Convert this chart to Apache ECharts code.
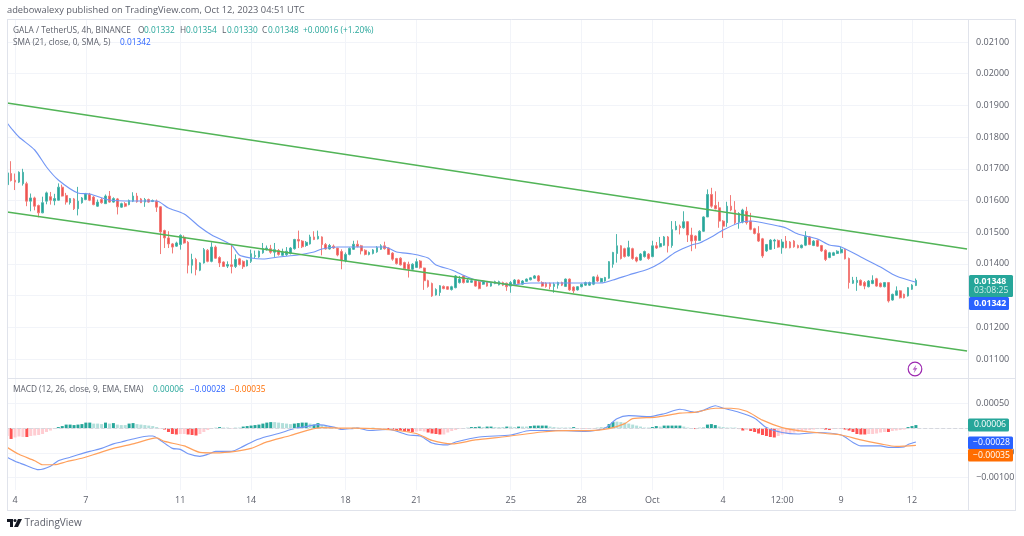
<!DOCTYPE html>
<html><head><meta charset="utf-8">
<style>html,body{margin:0;padding:0;background:#fff}#c{width:1024px;height:536px}</style>
<script src="https://cdn.jsdelivr.net/npm/echarts@6/dist/echarts.min.js"></script>
</head><body><div id="c"></div>
<script>
// Prices and MACD histogram are in units of 0.00001.
const UNIT = 1e-5;
const open = [1650,1685,1664,1658,1653,1653,1598,1608,1584,1561,
1598,1612,1599,1601,1642,1616,1593,1605,1574,1593,
1603,1619,1611,1582,1603,1590,1614,1595,1605,1579,
1590,1587,1598,1614,1605,1595,1603,1597,1598,1580,
1505,1482,1463,1456,1461,1484,1468,1396,1414,1380,
1403,1443,1408,1453,1420,1406,1393,1397,1392,1416,
1408,1394,1408,1424,1422,1435,1445,1448,1437,1442,
1427,1429,1433,1448,1477,1472,1458,1463,1485,1479,
1485,1461,1447,1456,1450,1439,1410,1430,1446,1462,
1457,1443,1430,1433,1438,1446,1457,1450,1434,1417,
1418,1404,1399,1383,1389,1409,1387,1347,1338,1302,
1310,1329,1328,1319,1325,1341,1362,1342,1342,1347,
1343,1336,1343,1330,1338,1334,1341,1339,1330,1336,
1349,1336,1345,1350,1355,1362,1341,1339,1339,1329,
1333,1341,1329,1352,1327,1318,1328,1333,1333,1336,
1359,1343,1346,1355,1399,1433,1457,1448,1425,1448,
1420,1412,1423,1431,1423,1457,1454,1459,1485,1458,
1508,1519,1514,1533,1491,1488,1474,1503,1548,1619,
1584,1577,1535,1530,1582,1570,1532,1532,1566,1535,
1511,1496,1479,1441,1446,1472,1474,1451,1472,1469,
1472,1458,1451,1459,1485,1458,1474,1458,1443,1420,
1427,1433,1435,1446,1417,1339,1341,1348,1341,1328,
1338,1353,1339,1328,1341,1286,1301,1315,1304,1299,
1320,1332];
const close = [1687,1663,1658,1689,1689,1598,1608,1582,1561,1593,
1624,1601,1606,1642,1614,1595,1606,1574,1598,1608,
1621,1601,1587,1595,1593,1614,1595,1606,1580,1590,
1582,1600,1614,1596,1593,1603,1595,1600,1579,1501,
1482,1463,1453,1466,1490,1466,1396,1414,1382,1403,
1445,1408,1453,1418,1403,1392,1398,1392,1414,1398,
1391,1411,1432,1426,1440,1448,1450,1437,1445,1430,
1437,1440,1450,1477,1472,1454,1468,1485,1477,1487,
1461,1447,1458,1450,1428,1410,1430,1449,1462,1455,
1441,1430,1436,1444,1452,1457,1448,1430,1415,1401,
1397,1385,1383,1399,1407,1388,1347,1329,1299,1319,
1331,1322,1320,1328,1362,1352,1341,1348,1347,1330,
1322,1346,1330,1339,1344,1344,1333,1328,1341,1349,
1338,1346,1352,1356,1362,1346,1330,1329,1329,1336,
1341,1333,1352,1318,1315,1328,1336,1341,1341,1359,
1346,1354,1357,1407,1436,1457,1417,1423,1451,1417,
1409,1431,1439,1417,1457,1450,1464,1485,1457,1508,
1519,1514,1533,1491,1472,1474,1503,1548,1619,1582,
1574,1535,1519,1582,1570,1530,1559,1570,1530,1509,
1496,1472,1425,1461,1475,1475,1453,1469,1451,1451,
1454,1451,1459,1488,1461,1472,1456,1441,1414,1435,
1435,1440,1446,1416,1341,1348,1348,1333,1330,1346,
1348,1330,1328,1341,1283,1304,1315,1293,1293,1325,
1333,1348];
const high = [1700,1724,1685,1692,1700,1659,1622,1612,1587,1612,
1628,1627,1621,1654,1650,1624,1608,1608,1643,1611,
1624,1624,1614,1603,1608,1619,1630,1610,1608,1593,
1595,1603,1626,1624,1608,1608,1606,1603,1603,1582,
1508,1503,1466,1470,1493,1490,1472,1432,1419,1405,
1450,1447,1468,1458,1424,1408,1408,1463,1430,1419,
1411,1413,1445,1442,1442,1466,1458,1460,1466,1447,
1448,1453,1453,1479,1505,1475,1472,1492,1503,1505,
1487,1466,1463,1461,1450,1446,1436,1452,1473,1474,
1460,1446,1439,1447,1456,1462,1470,1452,1437,1419,
1421,1407,1407,1402,1417,1412,1388,1350,1341,1323,
1333,1332,1330,1331,1365,1362,1365,1352,1352,1349,
1346,1349,1346,1342,1347,1347,1344,1341,1346,1352,
1351,1349,1354,1358,1365,1365,1345,1342,1341,1341,
1344,1344,1354,1354,1329,1330,1338,1344,1344,1361,
1366,1356,1359,1409,1438,1494,1459,1451,1473,1451,
1423,1434,1442,1434,1473,1469,1485,1488,1488,1535,
1535,1524,1566,1535,1514,1490,1506,1550,1635,1640,
1629,1596,1538,1596,1617,1598,1563,1574,1580,1561,
1514,1519,1482,1463,1478,1479,1477,1478,1488,1472,
1475,1461,1461,1503,1488,1475,1477,1460,1446,1438,
1438,1443,1454,1449,1420,1359,1359,1351,1346,1349,
1364,1356,1341,1343,1343,1306,1329,1317,1306,1327,
1336,1354];
const low = [1600,1660,1633,1655,1647,1582,1566,1569,1547,1560,
1588,1587,1585,1600,1613,1587,1587,1570,1553,1590,
1601,1598,1585,1580,1590,1590,1593,1593,1556,1577,
1579,1585,1595,1593,1592,1580,1593,1595,1564,1431,
1450,1450,1433,1454,1445,1464,1370,1370,1364,1377,
1401,1405,1405,1416,1390,1390,1387,1370,1387,1395,
1384,1392,1403,1416,1419,1432,1442,1432,1422,1426,
1424,1425,1430,1445,1450,1450,1454,1461,1475,1477,
1427,1445,1445,1447,1424,1383,1405,1427,1444,1452,
1430,1427,1427,1430,1435,1444,1445,1428,1410,1398,
1395,1382,1357,1380,1387,1385,1318,1325,1296,1300,
1299,1320,1318,1316,1323,1338,1338,1340,1340,1328,
1320,1334,1328,1328,1336,1332,1330,1315,1309,1333,
1335,1334,1343,1348,1353,1344,1328,1325,1320,1309,
1322,1330,1327,1315,1308,1316,1326,1331,1331,1333,
1343,1341,1344,1353,1388,1404,1414,1420,1423,1413,
1405,1410,1420,1413,1421,1447,1452,1457,1436,1451,
1506,1493,1511,1469,1440,1448,1472,1501,1548,1577,
1572,1514,1482,1517,1566,1524,1511,1528,1524,1506,
1493,1469,1419,1438,1444,1447,1451,1432,1449,1449,
1451,1449,1449,1456,1459,1456,1454,1438,1409,1418,
1425,1431,1433,1414,1322,1337,1315,1331,1320,1326,
1336,1328,1326,1326,1278,1284,1299,1291,1291,1297,
1318,1330];

// [bar index, value] pairs
const sma = [[0,.018445],[1,.018287],[3,.018003],[7,.017593],[10,.017057],[13,.016647],[18,.016237],[21,.016205],[26,.016016],[32,.015984],[38,.015984],[41,.015763],[45,.015574],[49,.015164],[52,.014912],[57,.014596],[59,.014281],[62,.014186],[65,.014154],[69,.014218],[74,.014281],[78,.014375],[80,.01447],[84,.014533],[90,.014533],[96,.014533],[99,.014375],[103,.014312],[107,.014186],[109,.013965],[113,.013808],[117,.013587],[120,.01346],[125,.013397],[128,.013334],[133,.013397],[141,.013397],[151,.013397],[154,.013492],[158,.01365],[163,.013839],[166,.014028],[170,.014375],[174,.014596],[176,.014659],[179,.014849],[182,.015069],[186,.01529],[189,.015353],[191,.015322],[196,.015196],[198,.015133],[201,.014943],[206,.014785],[209,.014596],[212,.014533],[217,.014218],[222,.013902],[226,.013618],[231,.01342]];
const channelUpper = [[0,.019076],[244,.01447]];
const channelLower = [[0,.015637],[244,.011252]];
const macd = [[0,-.00059],[2,-.00067],[3,-.0007],[5,-.00076],[8,-.00084],[11,-.00077],[13,-.00066],[16,-.00059],[18,-.00054],[21,-.00047],[24,-.00041],[27,-.00032],[29,-.00028],[32,-.00022],[36,-.00016],[37,-.00016],[39,-.00025],[42,-.00041],[44,-.00043],[46,-.00052],[49,-.00057],[51,-.00053],[53,-.00047],[57,-.00047],[60,-.00037],[63,-.00025],[66,-.00017],[69,-.00011],[73,-.00001],[76,.00003],[79,.00007],[83,.00002],[85,-.00003],[89,0],[92,-.00005],[97,-.00003],[102,-.00014],[105,-.00016],[108,-.0003],[112,-.00034],[114,-.00028],[120,-.00018],[128,-.00014],[133,-.00005],[140,-.00005],[147,-.00007],[152,0],[155,.00019],[158,.00025],[163,.00023],[167,.00029],[171,.00038],[175,.00032],[177,.00036],[180,.00045],[182,.0004],[186,.00032],[190,.0002],[193,.00001],[197,-.00009],[201,-.00012],[206,-.00009],[212,-.00014],[215,-.00029],[217,-.00036],[222,-.00036],[224,-.00039],[228,-.00038],[229,-.00033],[231,-.00028]];
const signal = [[0,-.00039],[3,-.00053],[7,-.00066],[9,-.00074],[12,-.00074],[15,-.00068],[19,-.00061],[23,-.00051],[27,-.00041],[32,-.00032],[38,-.0002],[40,-.00027],[45,-.00036],[49,-.00049],[53,-.0005],[58,-.00047],[62,-.00041],[66,-.00028],[72,-.00015],[77,-.00003],[80,.00001],[85,0],[93,-.00001],[97,-.00003],[104,-.00011],[108,-.00025],[113,-.00032],[119,-.00024],[127,-.00017],[136,-.00008],[142,-.00005],[148,-.00005],[153,-.00001],[157,.00009],[159,.00019],[165,.00022],[171,.0003],[175,.00032],[180,.0004],[184,.0004],[188,.00034],[192,.00016],[197,.00001],[202,-.00006],[208,-.00011],[212,-.00014],[217,-.00024],[222,-.00032],[226,-.00037],[231,-.00035]];
const hist = [-16,-22,-19,-17,-18,-18,-16,-15,-14,-12,
-8,-5,-2,2,4,7,7,6,7,8,
11,11,9,9,8,11,9,10,7,6,
6,9,10,8,7,6,5,4,2,-1,
-3,-8,-12,-13,-12,-12,-13,-14,-15,-12,
-8,-4,-1,1,2,1,1,-1,1,1,
3,4,5,6,7,9,11,12,12,11,
10,9,8,9,10,11,11,9,7,10,
6,4,2,1,-1,-3,-1,-1,1,1,
-1,-1,-1,1,-1,-1,-2,-2,-3,-4,
-5,-6,-7,-8,-7,-6,-7,-9,-11,-12,
-13,-13,-9,-6,-4,-1,-1,1,2,2,
3,2,3,3,2,2,2,3,3,2,
3,3,3,4,5,5,5,5,3,2,
1,1,1,1,2,-1,-2,-2,-2,-1,
1,2,2,8,12,13,12,11,9,7,
5,3,1,1,2,4,3,5,5,5,
5,5,3,1,-1,-2,1,2,7,8,
6,3,2,1,1,1,-2,-5,-4,-6,
-8,-11,-14,-16,-18,-19,-16,-13,-11,-10,
-9,-8,-6,-5,-4,-3,-2,-2,-3,-4,
-2,-1,-1,-3,-5,-8,-12,-13,-13,-12,
-12,-11,-9,-8,-8,-6,-5,-4,-3,2,
4,6];
const histDarkBars = [1,5,13,14,15,16,17,18,19,20,21,25,27,31,32,40,41,42,43,46,47,48,54,60,61,62,63,64,65,66,67,73,74,75,76,78,79,85,91,97,98,99,100,101,102,103,107,108,109,110,118,119,120,122,123,127,130,133,134,135,136,137,144,153,154,164,165,167,168,169,170,171,175,178,179,180,186,187,189,190,191,192,193,194,195,208,209,213,214,215,216,217,218,224,229,230,231];

const timeTickBars = [2,20,44,62,86,104,128,146,164,182,197,212,230];
const timeTickLabels = ['4','7','11','14','18','21','25','28','Oct','4','12:00','9','12'];
const priceTicks = [.011,.012,.013,.014,.015,.016,.017,.018,.019,.02,.021];
const macdTicks = [-.001,-.0005,0,.0005];
const LAST_PRICE = .01348, LAST_HIST = .00006;

const BAND_COUNT = 245;
const categories = Array.from({length:BAND_COUNT},(_,i)=>{
  const t = timeTickBars.indexOf(i); return t>=0 ? timeTickLabels[t] : '';
});
const isTick = i => timeTickBars.includes(i);
const FONT = 'Open Sans';
const TXT = '#5d606b', GRID='#f2f4f9', LINE='#e0e3eb';
const UP='#26a69a', DOWN='#ef5350', BLUE='#2962ff', ORANGE='#ff6d00';

const xAxis = (gi,showLabels)=>({
  type:'category', gridIndex:gi, data:categories, boundaryGap:true,
  axisLine:{show:false}, axisTick:{show:false},
  axisLabel:{show:showLabels, interval:(i)=>isTick(i), color:TXT, fontFamily:FONT, fontSize:9, margin:6, hideOverlap:false},
  splitLine:{show:true, alignWithLabel:true, interval:(i)=>isTick(i), lineStyle:{color:GRID,width:1}}
});
const yAxis = (gi,min,max,ticks,fmt)=>({
  type:'value', gridIndex:gi, position:'right', min, max, scale:true,
  axisLine:{show:false}, axisTick:{show:false, customValues:ticks},
  axisLabel:{color:TXT, fontFamily:FONT, fontSize:9, margin:7, customValues:ticks, formatter:fmt, showMinLabel:true, showMaxLabel:true},
  splitLine:{show:true, lineStyle:{color:GRID,width:1}}
});
const fmt5 = v => (v<0?'\u2212':'')+Math.abs(v).toFixed(5);

const txt = (x,y,text,fill,extra={}) => ({type:'text', z:100, x, y, style:Object.assign({text, fill, font:`8.3px "${FONT}"`, textVerticalAlign:'middle', textAlign:'left'},extra)});
const tag = (x,y,w,h,fill) => ({type:'rect', z:99, shape:{x,y,width:w,height:h,r:1.5}, style:{fill}});
const hline = (x1,x2,y) => ({type:'line', z:98, shape:{x1,y1:y,x2,y2:y}, style:{stroke:LINE,lineWidth:1}});
const vline = (x,y1,y2) => ({type:'line', z:98, shape:{x1:x,y1,x2:x,y2}, style:{stroke:LINE,lineWidth:1}});

const graphic = [
  {type:'rect', z:97, shape:{x:0,y:0,width:7,height:536}, style:{fill:'#fff'}},
  hline(7,1015.5,19.5), hline(7,1015.5,378.5), hline(7,1015.5,510.5),
  vline(7.5,19,511), vline(968.5,19,511), vline(1015.5,19,511),
  txt(7,10.5,'adebowalexy published on TradingView.com, Oct 12, 2023 04:51 UTC',TXT,{font:`9.3px "${FONT}"`}),
  txt(13,30.5,'GALA / TetherUS, 4h, BINANCE',TXT),
  txt(138,30.5,'O',TXT), txt(144,30.5,'0.01332',UP),
  txt(180,30.5,'H',TXT), txt(186,30.5,'0.01354',UP),
  txt(222,30.5,'L',TXT), txt(227,30.5,'0.01330',UP),
  txt(262,30.5,'C',TXT), txt(268,30.5,'0.01348',UP),
  txt(303,30.5,'+0.00016 (+1.20%)',UP),
  txt(13,42.5,'SMA (21, close, 0, SMA, 5)',TXT),
  txt(120,42.5,'0.01342',BLUE),
  txt(13,389.5,'MACD (12, 26, close, 9, EMA, EMA)',TXT),
  txt(153,389.5,'0.00006',UP), txt(190,389.5,'\u22120.00028',BLUE), txt(230,389.5,'\u22120.00035',ORANGE),
  tag(969,275,44,22,UP),
  txt(974,281.5,'0.01348','#fff',{font:`bold 8.7px "${FONT}"`}), txt(974,291,'03:08:25','#d4eeeb',{font:`8.7px "${FONT}"`}),
  tag(969,297,40,13,BLUE), txt(974,303.5,'0.01342','#fff',{font:`bold 8.7px "${FONT}"`}),
  tag(968,418.5,41,13,UP), txt(974,425,'0.00006','#fff',{font:`8.7px "${FONT}"`}),
  tag(968,436.5,45,12.5,BLUE), txt(973,443,'\u22120.00028','#fff',{font:`8.7px "${FONT}"`}),
  tag(968,449,45,12.5,ORANGE), txt(973,455.5,'\u22120.00035','#fff',{font:`8.7px "${FONT}"`}),
  {type:'circle', z:100, shape:{cx:915,cy:369,r:6.8}, style:{fill:'#fff',stroke:'#9c27b0',lineWidth:1.2}},
  {type:'polygon', z:101, shape:{points:[[916.2,364.8],[912.6,369.8],[914.7,369.8],[913.8,373.2],[917.4,368],[915.3,368]]}, style:{fill:'#ba68c8'}},
  // TradingView mark and wordmark
  {type:'polygon', z:100, shape:{points:[[7,519],[13,519],[13,527],[10,527],[10,522],[7,522]]}, style:{fill:'#131722'}},
  {type:'circle', z:100, shape:{cx:15,cy:520.5,r:1.5}, style:{fill:'#131722'}},
  {type:'polygon', z:100, shape:{points:[[18,519],[22,519],[18,527],[14,527]]}, style:{fill:'#131722'}},
  txt(24.5,523,'TradingView',TXT,{font:`10px "${FONT}"`})
];

const barData = open.map((_,i)=>[open[i]*UNIT, close[i]*UNIT, low[i]*UNIT, high[i]*UNIT]);
const histData = hist.map((v,i)=>{
  const dark = histDarkBars.includes(i);
  return {value:[i, v*UNIT], itemStyle:{color: v>=0 ? (dark?'#26a69a':'#b2dfdb') : (dark?'#ff5252':'#ffcdd2')}};
});

const chart = echarts.init(document.getElementById('c'),null,{renderer:'canvas',width:1024,height:536});
chart.setOption({
  animation:false, backgroundColor:'#fff',
  grid:[
    {left:5.2, top:19, width:963.83, height:359},
    {left:5.2, top:379, width:963.83, height:111}
  ],
  xAxis:[xAxis(0,false), xAxis(1,true)],
  yAxis:[yAxis(0,.0104,.021726,priceTicks,fmt5), yAxis(1,-.00125,.00099,macdTicks,fmt5)],
  graphic,
  series:[
    {type:'candlestick', xAxisIndex:0, yAxisIndex:0, data:barData, barWidth:2.2, z:3,
     itemStyle:{color:UP,color0:DOWN,borderColor:'#4db6ac',borderColor0:'#f27b78',borderWidth:1},
     markLine:{silent:true, symbol:'none', label:{show:false}, data:[{yAxis:LAST_PRICE}], lineStyle:{color:'#7cc8c1',type:'dotted',width:1}}},
    {type:'line', xAxisIndex:0, yAxisIndex:0, data:sma, smooth:.25, showSymbol:false, z:4, lineStyle:{color:'#7397f5',width:1.15}},
    {type:'line', xAxisIndex:0, yAxisIndex:0, data:channelUpper, showSymbol:false, z:5, lineStyle:{color:'#52b457',width:1.7}},
    {type:'line', xAxisIndex:0, yAxisIndex:0, data:channelLower, showSymbol:false, z:5, lineStyle:{color:'#52b457',width:1.7}},
    {type:'bar', xAxisIndex:1, yAxisIndex:1, data:histData, barWidth:3, z:2,
     markLine:{silent:true, symbol:'none', label:{show:false}, data:[{yAxis:LAST_HIST}], lineStyle:{color:'#d6d8de',type:'dashed',width:1}}},
    {type:'line', xAxisIndex:1, yAxisIndex:1, data:macd, smooth:.25, showSymbol:false, z:4, lineStyle:{color:'#7397f5',width:1.15}},
    {type:'line', xAxisIndex:1, yAxisIndex:1, data:signal, smooth:.25, showSymbol:false, z:5, lineStyle:{color:'#ffa05c',width:1.2}}
  ]
});
</script></body></html>
